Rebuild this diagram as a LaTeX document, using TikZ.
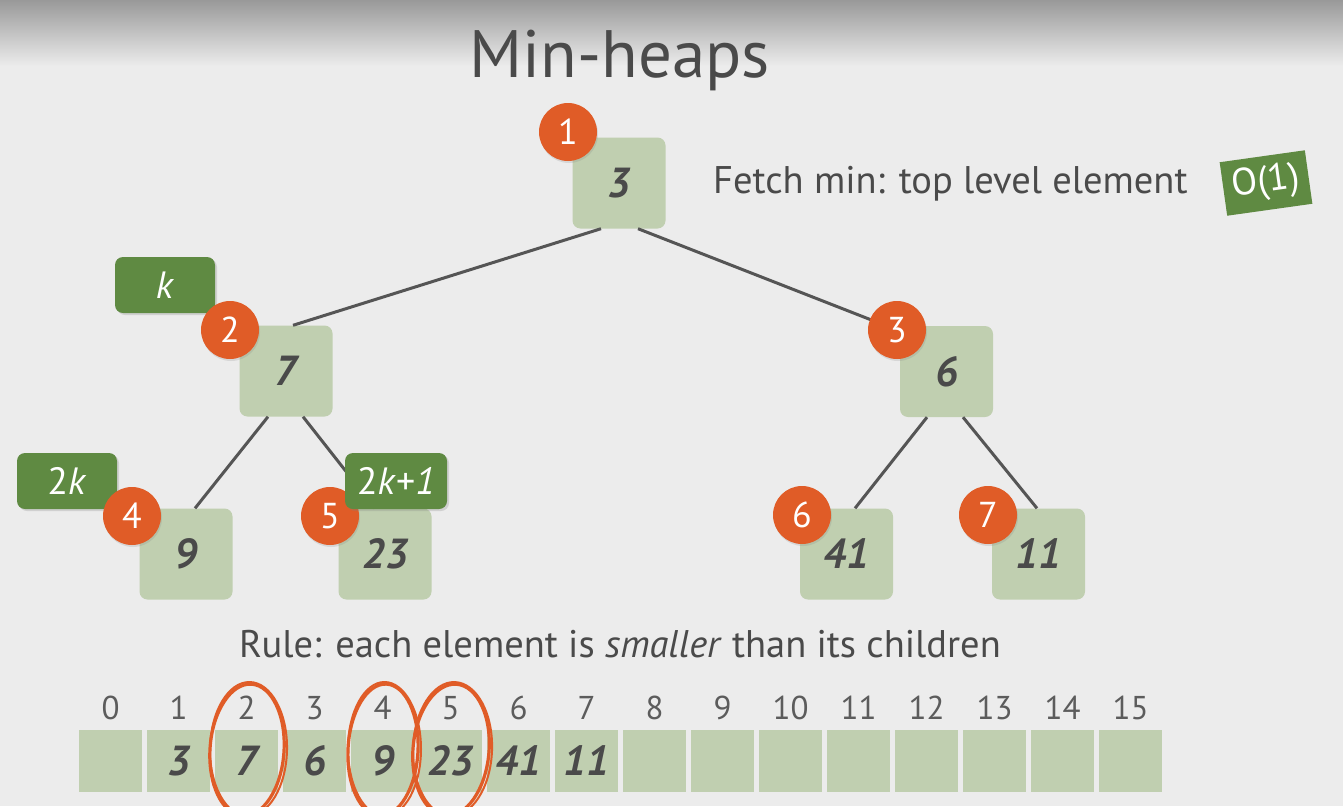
\documentclass[tikz,border=0pt]{standalone}
\usepackage{fontspec}
\setmainfont{PT Sans}
\usetikzlibrary{shadows,calc}
\definecolor{bgcol}{HTML}{ECECEC}
\definecolor{boxgreen}{HTML}{C0CFB0}
\definecolor{labgreen}{HTML}{5F8A42}
\definecolor{circorange}{HTML}{E05C27}
\definecolor{txtgray}{HTML}{4A4A4A}
\definecolor{edgegray}{HTML}{555555}
\tikzset{
  heapbox/.style={fill=boxgreen, rounded corners=8pt, minimum width=93pt, minimum height=91pt, inner sep=0pt, text=txtgray, font=\fontsize{42}{42}\selectfont\bfseries\itshape},
  idxcirc/.style={circle, fill=circorange, minimum size=58pt, inner sep=0pt, text=white, font=\fontsize{36}{36}\selectfont, drop shadow={opacity=0.2, shadow xshift=1pt, shadow yshift=-2pt}},
  glabel/.style={fill=labgreen, rounded corners=8pt, minimum height=56pt, inner sep=0pt, text=white, font=\fontsize{38}{38}\selectfont, drop shadow={opacity=0.25, shadow xshift=2pt, shadow yshift=-2pt}},
  cellbox/.style={fill=boxgreen, minimum width=63pt, minimum height=62pt, inner sep=0pt, text=txtgray, font=\fontsize{42}{42}\selectfont\bfseries\itshape},
  idxnum/.style={text=txtgray!90, font=\fontsize{33}{33}\selectfont, inner sep=0pt, anchor=base},
  treeedge/.style={draw=edgegray, line width=3pt},
  scribble/.style={draw=circorange, line width=3.2pt, line cap=round},
}
\begin{document}
\begin{tikzpicture}[x=1pt,y=-1pt]
\useasboundingbox (0,0) rectangle (1343,806);
\fill[bgcol] (0,0) rectangle (1343,806);
\shade[top color=black!40, bottom color=bgcol] (0,0) rectangle (1343,66);

% title
\node[text=txtgray, font=\fontsize{67}{67}\selectfont, anchor=base] (title) at (620,77) {Min-heaps};

% heap nodes
\node[heapbox] (n1) at (619,183) {3};
\node[heapbox] (n2) at (286,371) {7};
\node[heapbox] (n3) at (946.5,371.5) {6};
\node[heapbox] (n4) at (186,554) {9};
\node[heapbox] (n5) at (385,554) {23};
\node[heapbox] (n6) at (846.5,554) {41};
\node[heapbox] (n7) at (1038.5,554) {11};

\coordinate (c3pos) at (897,330);

% edges
\draw[treeedge] ([xshift=-18pt]n1.south) -- ([xshift=7pt]n2.north);
\draw[treeedge] ([xshift=19pt]n1.south) -- (c3pos);
\draw[treeedge] ([xshift=-18pt]n2.south) -- ([xshift=9pt]n4.north);
\draw[treeedge] ([xshift=17pt]n2.south) -- ([xshift=-10pt]n5.north);
\draw[treeedge] ([xshift=-19.5pt]n3.south) -- ([xshift=8.5pt]n6.north);
\draw[treeedge] ([xshift=16.5pt]n3.south) -- ([xshift=-1.5pt]n7.north);

% labels k, 2k
\node[glabel, minimum width=100pt] (lk) at (165,285) {\textit{k}};
\node[glabel, minimum width=100pt] (l2k) at (67,481) {2\textit{k}};

\node[idxcirc] (c1) at (568,132) {1};
\node[idxcirc] (c2) at (230,330) {2};
\node[idxcirc] (c3) at (c3pos) {3};
\node[idxcirc] (c4) at (132,516) {4};
\node[idxcirc] (c5) at (330,516) {5};
\node[idxcirc] (c6) at (802,515) {6};
\node[idxcirc] (c7) at (988,515) {7};

\node[glabel, minimum width=102pt] (l2k1) at (396,481) {2\textit{k}+\textit{1}};

% fetch min text
\node[text=txtgray, font=\fontsize{38.5}{38.5}\selectfont, anchor=base west, inner sep=0pt] (fetch) at (713,193) {Fetch min: top level element};
\node[fill=labgreen, text=white, minimum width=86pt, minimum height=54pt, inner sep=0pt, rotate=8, font=\fontsize{38}{38}\selectfont] (o1) at (1266,183) {O(1)};

% rule text
\node[text=txtgray, font=\fontsize{38.5}{38.5}\selectfont, anchor=base, inner sep=0pt] (rule) at (620,657) {Rule: each element is \textit{smaller} than its children};

% array
\foreach \i/\v in {0/,1/3,2/7,3/6,4/9,5/23,6/41,7/11,8/,9/,10/,11/,12/,13/,14/,15/} {
  \node[cellbox] (a\i) at ({110.5+68*\i},761) {\v};
  \node[idxnum] (ix\i) at ({110.5+68*\i},719) {\i};
}

% hand-drawn ellipses
\foreach \cx/\cy/\rx/\ry/\rot in {247/750/37/66/-4, 383/750/35/66/-3, 451/750/38/66/-5} {
  \draw[scribble, rotate around={\rot:(\cx,\cy)}] (\cx,\cy) ellipse ({\rx pt} and {\ry pt});
  \draw[scribble, line width=2pt, rotate around={\rot+3:(\cx+1,\cy)}] (\cx+1.5,\cy-1) ellipse ({\rx pt+1.5pt} and {\ry pt+1pt});
}
\end{tikzpicture}
\end{document}
